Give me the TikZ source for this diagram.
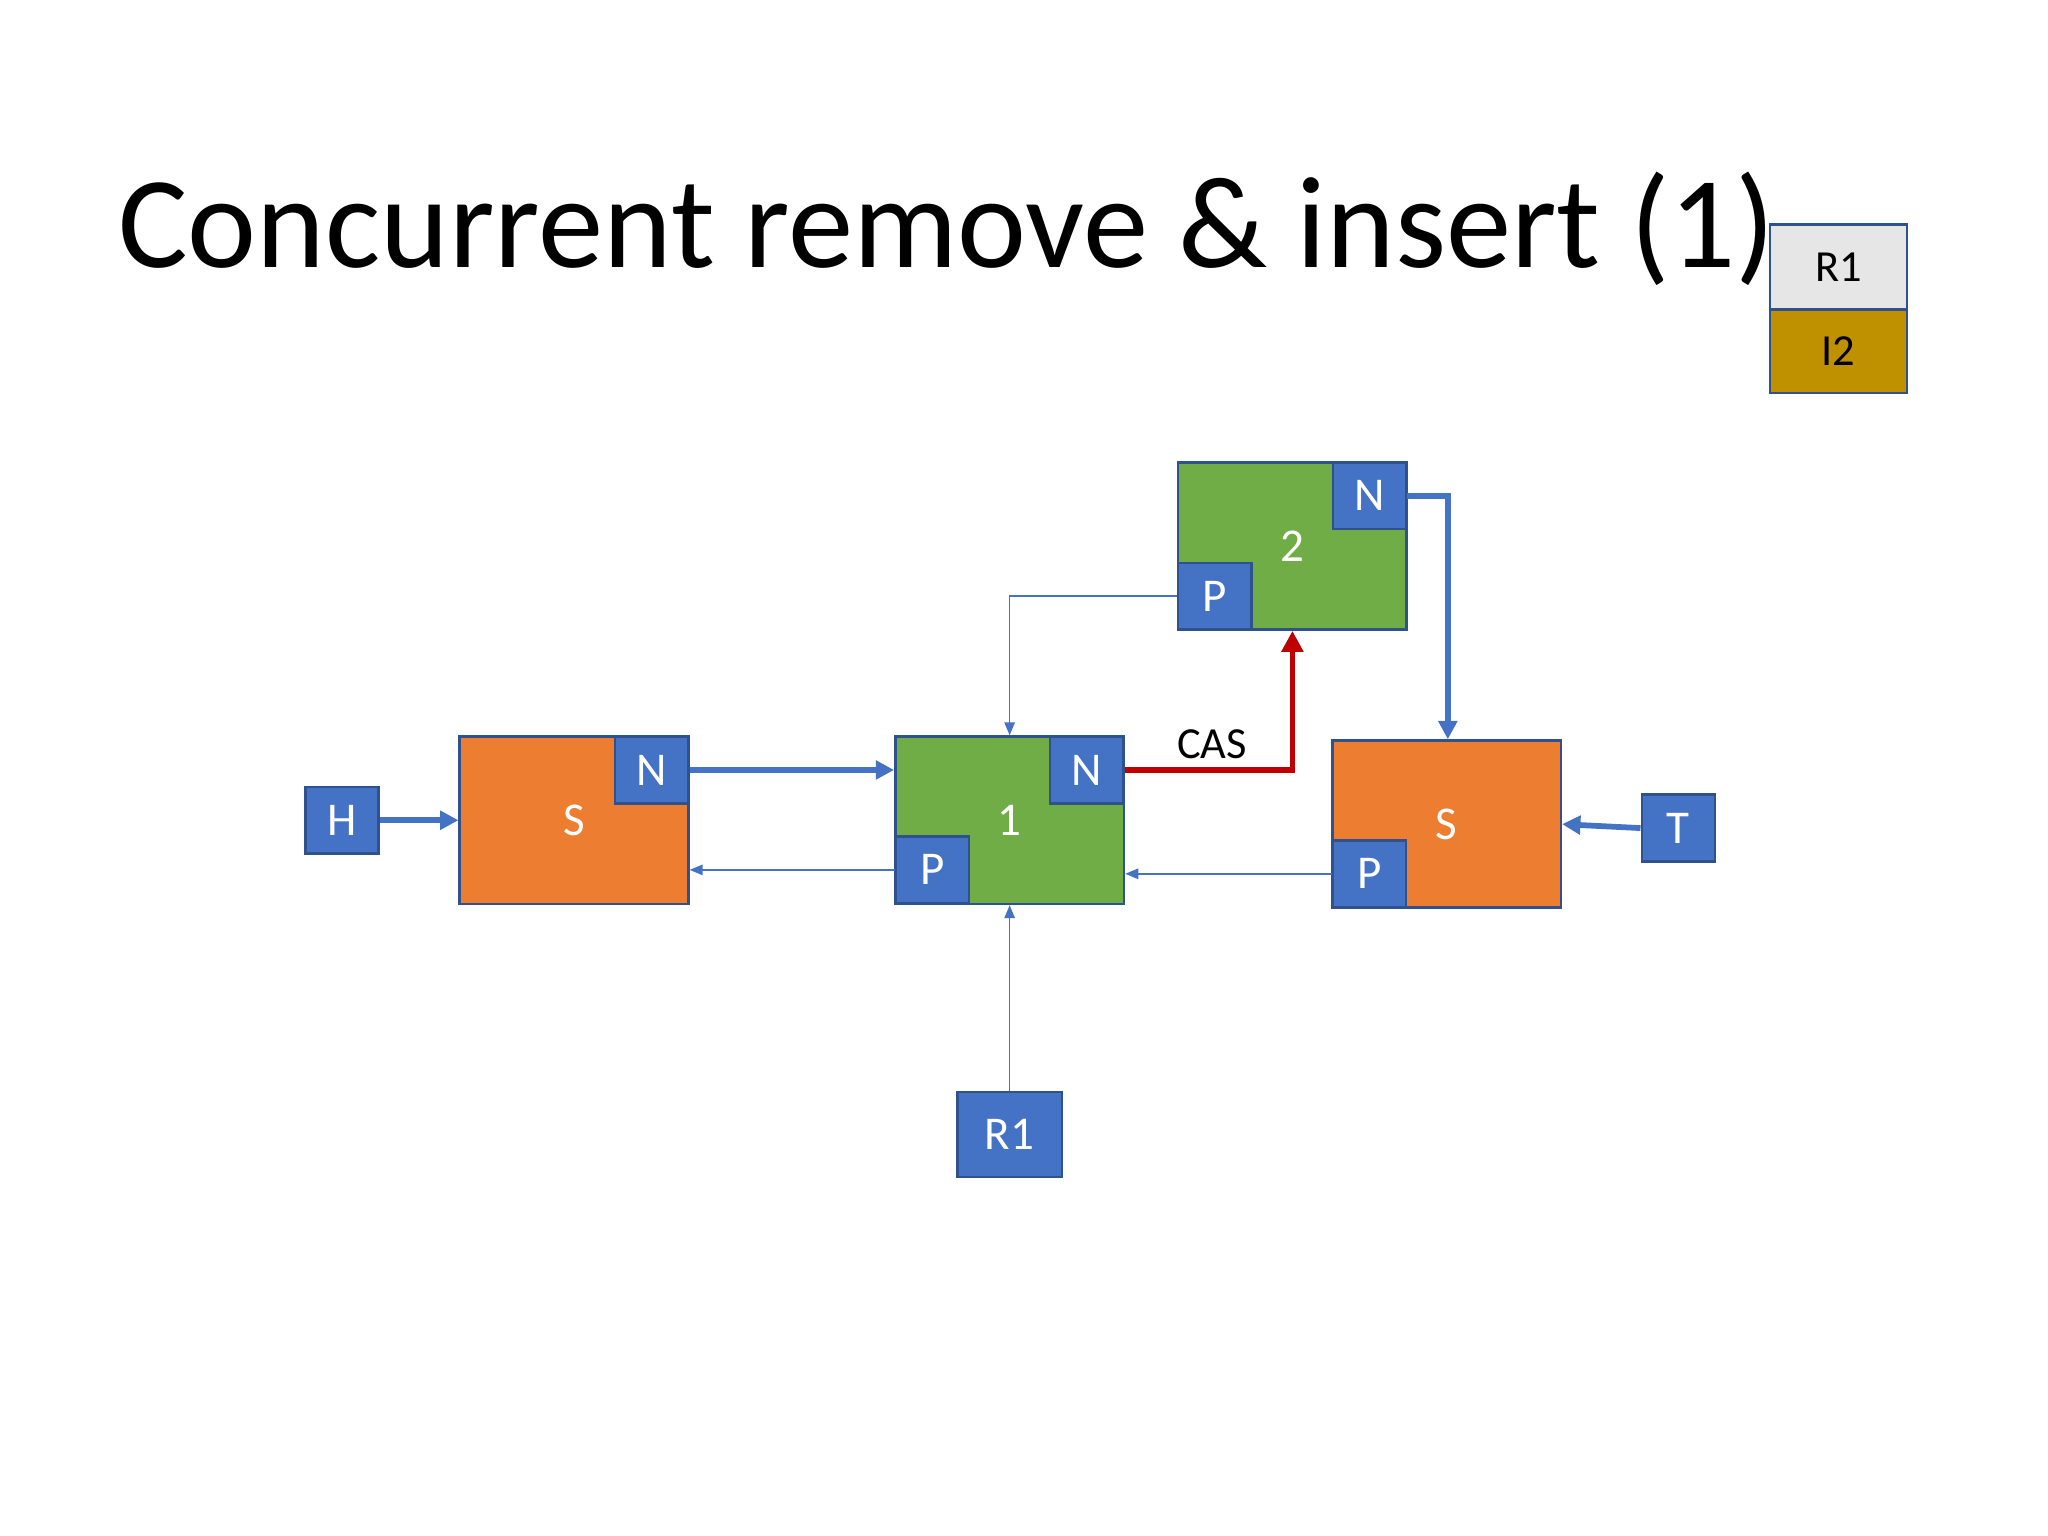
\documentclass[tikz,border=0pt]{standalone}
\usepackage{fontspec}
\setmainfont{Carlito}
\usetikzlibrary{arrows.meta}
\definecolor{bl}{HTML}{4472C4}
\definecolor{bd}{HTML}{2F528F}
\definecolor{gr}{HTML}{70AD47}
\definecolor{orr}{HTML}{ED7D31}
\definecolor{rd}{HTML}{C00000}
\definecolor{lg}{HTML}{E7E6E6}
\definecolor{gd}{HTML}{BF9000}
\begin{document}
\begin{tikzpicture}[x=0.5pt,y=-0.5pt,
 box/.style={draw=bd,line width=1pt},
 big/.style={box,minimum width=87.5pt,minimum height=64pt,inner sep=0},
 sub/.style={box,fill=bl,minimum width=28pt,minimum height=25.5pt,inner sep=0,text=white,font=\fontsize{18}{18}\selectfont},
 lbl/.style={text=white,font=\fontsize{18}{18}\selectfont},
 thk/.style={draw=bl,line width=2.2pt,-{Triangle[length=7pt,width=7pt]}},
 thn/.style={draw=bl,line width=0.6pt,-{Triangle[length=5pt,width=4pt]}}]
\useasboundingbox (0,0) rectangle (1568,1176);
\node[font=\fontsize{50}{50}\selectfont] (title) at (725,175) {Concurrent remove \& insert (1)};
\node[box,fill=lg,minimum width=52.5pt,minimum height=32.5pt,font=\fontsize{17}{17}\selectfont] (lr) at (1407.5,204.5) {R1};
\node[box,fill=gd,minimum width=52.5pt,minimum height=32pt,font=\fontsize{17}{17}\selectfont] (li) at (1407.5,269) {I2};
% S1
\node[big,fill=orr] (s1) at (439.5,628) {};
\node[lbl] at (s1) {S};
\node[sub] (s1n) at (499,589.5) {N};
% node1
\node[big,fill=gr] (n1) at (773,628) {};
\node[lbl] at (n1) {1};
\node[sub] (n1n) at (832,589.5) {N};
\node[sub] (n1p) at (714,666) {P};
% node2
\node[big,fill=gr] (n2) at (989.5,418) {};
\node[lbl] at (n2) {2};
\node[sub] (n2n) at (1048.5,379.5) {N};
\node[sub] (n2p) at (930,456.5) {P};
% S2
\node[big,fill=orr] (s2) at (1107.5,631) {};
\node[lbl] at (s2) {S};
\node[sub] (s2p) at (1048.5,669) {P};
\node[sub] (h) at (262,628) {H};
\node[sub] (t) at (1285,634) {T};
\node[sub,minimum width=40pt,minimum height=32.5pt] (r1) at (773,868.5) {R1};
% arrows
\draw[thk] (h.east) -- (s1.west |- h.east);
\draw[thk] (s1n.east) -- (n1.west |- n1n.east);
\draw[thn] (n1p.west) -- (s1.east |- n1p.west);
\draw[thn] (s2p.west) -- (n1.east |- s2p.west);
\draw[thn] (r1.north) -- (n1.south);
\draw[thn] (n2p.west) -| (n1.north);
\draw[thk] (n2n.east) -- ++(31,0) coordinate (c1) -- (c1 |- s2.north);
\draw[thk] (t.west) -- (s2.east);
\draw[draw=rd,line width=2.2pt,-{Triangle[length=8pt,width=8pt]}] (n1n.east) -| (n2.south);
\node[font=\fontsize{17}{17}\selectfont] (cas) at (928,570) {CAS};
\end{tikzpicture}
\end{document}
